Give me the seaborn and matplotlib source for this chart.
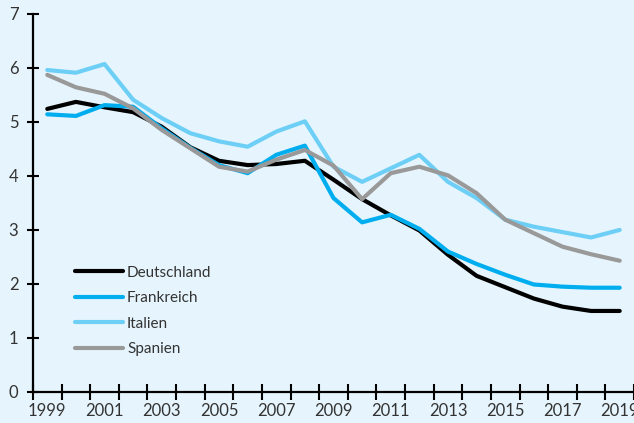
import pandas as pd
import matplotlib.pyplot as plt
import seaborn as sns

# Data
years = list(range(1999, 2020))
deutschland = [5.24, 5.37, 5.27, 5.18, 4.91, 4.53, 4.28, 4.20, 4.22, 4.28, 3.93,
               3.57, 3.27, 2.99, 2.54, 2.15, 1.94, 1.73, 1.58, 1.50, 1.50]
frankreich = [5.14, 5.11, 5.31, 5.28, 4.88, 4.52, 4.20, 4.05, 4.39, 4.56, 3.59,
              3.14, 3.28, 3.02, 2.60, 2.37, 2.17, 1.99, 1.95, 1.93, 1.93]
italien = [5.96, 5.91, 6.07, 5.41, 5.07, 4.79, 4.64, 4.54, 4.82, 5.01, 4.17,
           3.89, 4.14, 4.39, 3.89, 3.59, 3.19, 3.06, 2.96, 2.86, 3.00]
spanien = [5.87, 5.64, 5.52, 5.25, 4.85, 4.51, 4.17, 4.08, 4.30, 4.48, 4.19,
           3.57, 4.05, 4.17, 4.01, 3.68, 3.19, 2.94, 2.69, 2.55, 2.43]
countries = ["Deutschland", "Frankreich", "Italien", "Spanien"]
colors = ["#000000", "#00AEEF", "#6DCFF6", "#999999"]
y_ticks = [0, 1, 2, 3, 4, 5, 6, 7]
x_labels = years[::2]

df = pd.DataFrame({
    "Jahr": years * 4,
    "Wert": deutschland + frankreich + italien + spanien,
    "Land": sum([[c] * len(years) for c in countries], []),
})

bg = "#E6F5FD"
txt = "#333333"
plt.rcParams["font.family"] = ["Lato", "DejaVu Sans"]

fig = plt.figure(figsize=(6.34, 4.23), dpi=100, facecolor=bg)
ax = fig.add_axes([0.052, 0.0733, 0.948, 0.894], facecolor=bg)

sns.lineplot(data=df, x="Jahr", y="Wert", hue="Land", hue_order=countries,
             palette=colors, linewidth=3, ax=ax, legend=False)

ax.set_xlim(1998.5, 2019.5)
ax.set_ylim(0, 7)
ax.set_xlabel("")
ax.set_ylabel("")

# ticks at category boundaries, labels centered on odd years
ax.set_xticks([y - 0.5 for y in years] + [2019.5])
ax.set_xticklabels([])
ax.set_xticks(x_labels, minor=True)
ax.set_xticklabels([str(y) for y in x_labels], minor=True)
ax.tick_params(axis="x", which="major", direction="inout", length=11, width=1.5, color="black")
ax.tick_params(axis="x", which="minor", length=0, pad=8, labelsize=12, labelcolor=txt)

ax.set_yticks(y_ticks)
ax.tick_params(axis="y", direction="inout", length=9, width=1.5, color="black",
               labelsize=12, labelcolor=txt, pad=6)

for s in ["top", "right"]:
    ax.spines[s].set_visible(False)
for s in ["left", "bottom"]:
    ax.spines[s].set_linewidth(1.6)
    ax.spines[s].set_color("black")

handles = [plt.Line2D([], [], color=c, linewidth=3, solid_capstyle="round") for c in colors]
ax.legend(handles, countries, loc="upper left", bbox_to_anchor=(0.06, 0.35),
          frameon=False, fontsize=11, handlelength=3.1, handletextpad=0.3,
          labelspacing=0.75, labelcolor=txt, borderaxespad=0)

for line in ax.lines:
    line.set_solid_capstyle("round")
    line.set_clip_on(False)

fig.savefig("out.png", dpi=100, facecolor=bg)
